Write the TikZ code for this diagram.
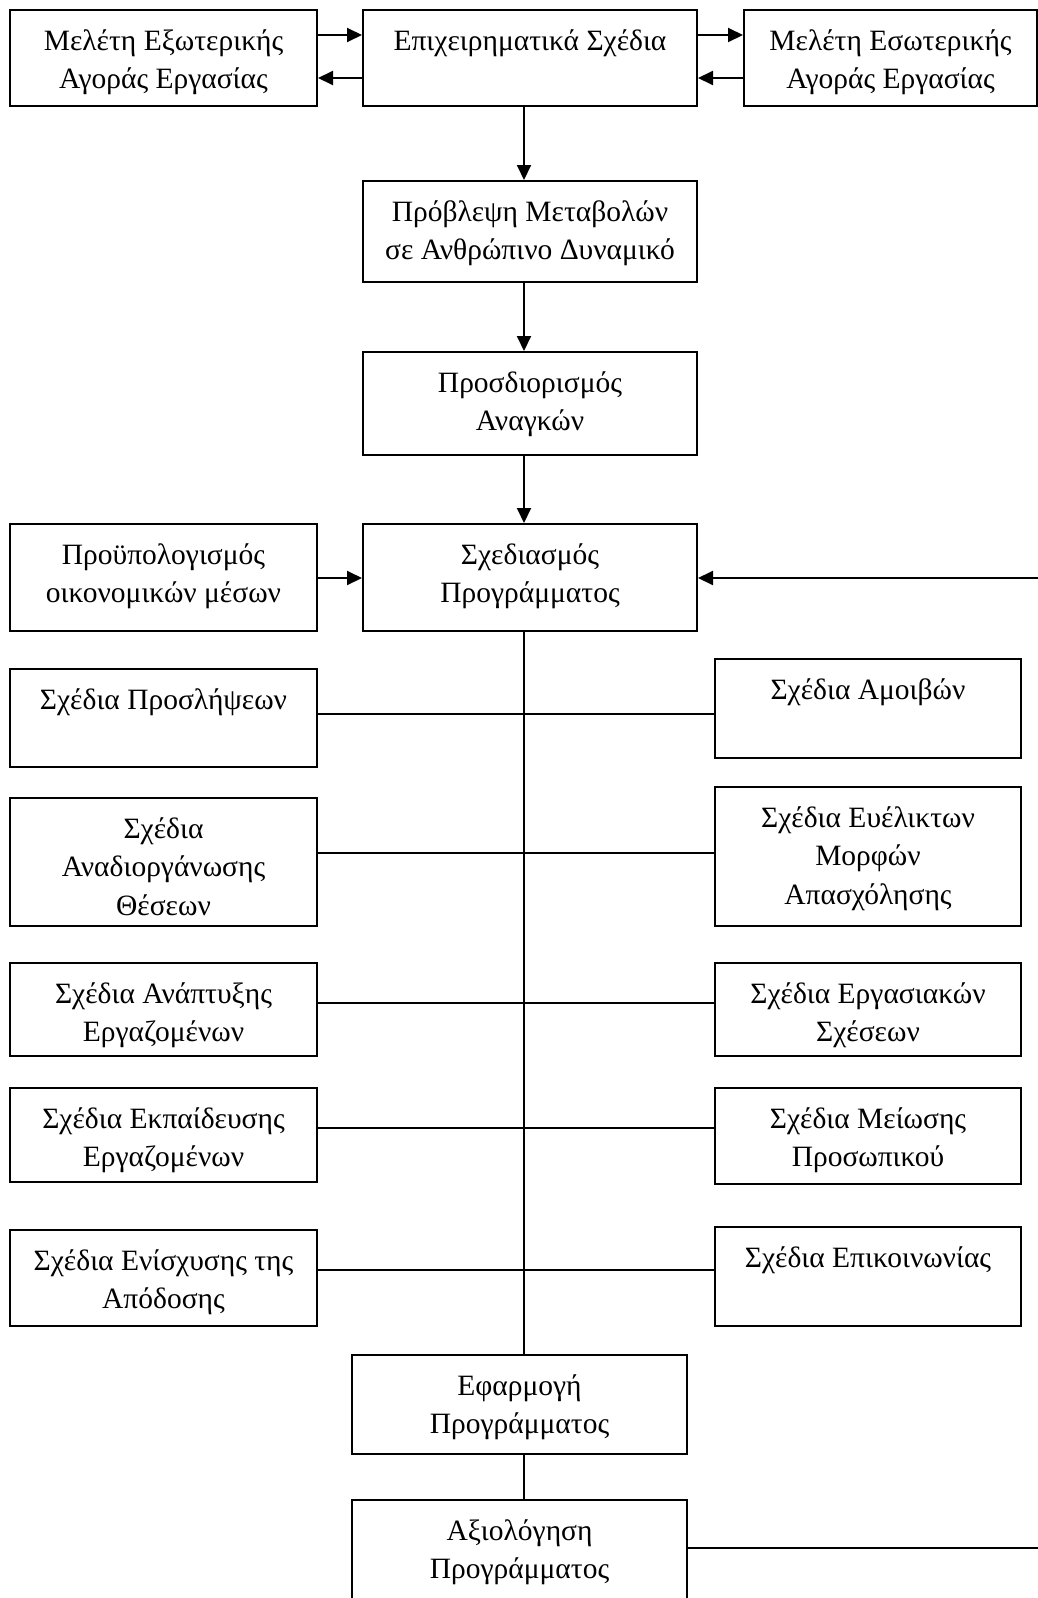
\documentclass[tikz,border=0pt]{standalone}
\usepackage{fontspec}
\setmainfont{Liberation Serif}
\usetikzlibrary{arrows.meta}

\tikzset{
  box/.style={draw, line width=2pt, rectangle, inner sep=0pt},
  txt/.style={font=\fontsize{29.5}{38.5}\selectfont, align=center, anchor=north, inner sep=0pt},
  ln/.style={line width=2pt},
  arr/.style={line width=2pt, -{Triangle[length=15pt,width=14pt]}},
}

% box: name, x1, y1, x2, y2, text (text set at the top of the box)
\newcommand\planbox[6]{%
  \node[box, minimum width={#4-#2}, minimum height={#5-#3}] (#1) at ({(#2+#4)/2},{(#3+#5)/2}) {};
  \node[txt] (#1-t) at ({(#2+#4)/2},{#3+13}) {\strut #6};
}

\begin{document}
\begin{tikzpicture}[x=1pt,y=-1pt]
\useasboundingbox (0,0) rectangle (1037,1598);
\fill[white] (0,0) rectangle (1037,1598);

% top row
\planbox{ext}{10}{10}{317}{106}{Μελέτη Εξωτερικής\\Αγοράς Εργασίας}
\planbox{biz}{363}{10}{697}{106}{Επιχειρηματικά Σχέδια}
\planbox{int}{744}{10}{1037}{106}{Μελέτη Εσωτερικής\\Αγοράς Εργασίας}

% main column
\planbox{fore}{363}{181}{697}{282}{Πρόβλεψη Μεταβολών\\σε Ανθρώπινο Δυναμικό}
\planbox{need}{363}{352}{697}{455}{Προσδιορισμός\\Αναγκών}
\planbox{design}{363}{524}{697}{631}{Σχεδιασμός\\Προγράμματος}
\planbox{budget}{10}{524}{317}{631}{Προϋπολογισμός\\οικονομικών μέσων}

% left plans
\planbox{L1}{10}{669}{317}{767}{Σχέδια Προσλήψεων}
\planbox{L2}{10}{798}{317}{926}{Σχέδια\\Αναδιοργάνωσης\\Θέσεων}
\planbox{L3}{10}{963}{317}{1056}{Σχέδια Ανάπτυξης\\Εργαζομένων}
\planbox{L4}{10}{1088}{317}{1182}{Σχέδια Εκπαίδευσης\\Εργαζομένων}
\planbox{L5}{10}{1230}{317}{1326}{Σχέδια Ενίσχυσης της\\Απόδοσης}

% right plans
\planbox{R1}{715}{659}{1021}{758}{Σχέδια Αμοιβών}
\planbox{R2}{715}{787}{1021}{926}{Σχέδια Ευέλικτων\\Μορφών\\Απασχόλησης}
\planbox{R3}{715}{963}{1021}{1056}{Σχέδια Εργασιακών\\Σχέσεων}
\planbox{R4}{715}{1088}{1021}{1184}{Σχέδια Μείωσης\\Προσωπικού}
\planbox{R5}{715}{1227}{1021}{1326}{Σχέδια Επικοινωνίας}

% implementation and evaluation
\planbox{impl}{352}{1355}{687}{1454}{Εφαρμογή\\Προγράμματος}
\planbox{eval}{352}{1500}{687}{1612}{Αξιολόγηση\\Προγράμματος}

% reference coordinates
\coordinate (trunk) at (524,0);
\coordinate (yA) at (0,35);
\coordinate (yB) at (0,78);
\coordinate (yBud) at (0,578);
\coordinate (fbTop) at (1045,578);
\coordinate (fbBot) at (1045,1548);
\coordinate (y1) at (0,714);
\coordinate (y2) at (0,853);
\coordinate (y3) at (0,1003);
\coordinate (y4) at (0,1128);
\coordinate (y5) at (0,1270);

% exchanges in the top row
\draw[arr] (ext.east |- yA) -- (biz.west |- yA);
\draw[arr] (biz.west |- yB) -- (ext.east |- yB);
\draw[arr] (biz.east |- yA) -- (int.west |- yA);
\draw[arr] (int.west |- yB) -- (biz.east |- yB);

% main flow
\draw[arr] (trunk |- biz.south) -- (trunk |- fore.north);
\draw[arr] (trunk |- fore.south) -- (trunk |- need.north);
\draw[arr] (trunk |- need.south) -- (trunk |- design.north);
\draw[arr] (budget.east |- yBud) -- (design.west |- yBud);
\draw[arr] (fbTop) -- (design.east |- fbTop);

% trunk through the plans
\draw[ln] (trunk |- design.south) -- (trunk |- impl.north);
\draw[ln] (trunk |- impl.south) -- (trunk |- eval.north);
\draw[ln] (eval.east |- fbBot) -- (fbBot);

% plan branches
\draw[ln] (L1.east |- y1) -- (R1.west |- y1);
\draw[ln] (L2.east |- y2) -- (R2.west |- y2);
\draw[ln] (L3.east |- y3) -- (R3.west |- y3);
\draw[ln] (L4.east |- y4) -- (R4.west |- y4);
\draw[ln] (L5.east |- y5) -- (R5.west |- y5);
\end{tikzpicture}
\end{document}
